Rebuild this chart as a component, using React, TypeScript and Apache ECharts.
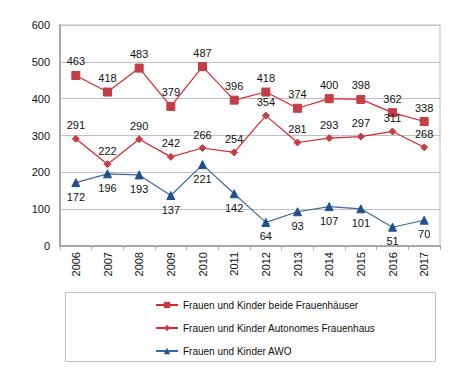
import React, { useEffect, useRef } from "react";
import * as echarts from "echarts";

const years = ["2006", "2007", "2008", "2009", "2010", "2011", "2012", "2013", "2014", "2015", "2016", "2017"];
const beide = [463, 418, 483, 379, 487, 396, 418, 374, 400, 398, 362, 338];
const autonomes = [291, 222, 290, 242, 266, 254, 354, 281, 293, 297, 311, 268];
const awo = [172, 196, 193, 137, 221, 142, 64, 93, 107, 101, 51, 70];
const names = [
  "Frauen und Kinder beide Frauenhäuser",
  "Frauen und Kinder Autonomes Frauenhaus",
  "Frauen und Kinder AWO",
];

const FONT = "Liberation Sans, Arial, sans-serif";

export default function App() {
  const ref = useRef<HTMLDivElement>(null);
  useEffect(() => {
    if (!ref.current) return;
    const chart = echarts.init(ref.current, null, { renderer: "svg" });
    const label = (pos: string) => ({
      show: true,
      position: pos,
      distance: 4,
      color: "#111",
      fontSize: 11,
      fontFamily: FONT,
    });
    chart.setOption({
      animation: false,
      textStyle: { fontFamily: FONT },
      grid: {
        left: 60,
        top: 25,
        width: 380,
        height: 221,
        show: true,
        borderColor: "#b8b8b8",
        borderWidth: 1,
        backgroundColor: "transparent",
      },
      xAxis: {
        type: "category",
        data: years,
        boundaryGap: true,
        axisLine: { lineStyle: { color: "#a8a8a8", width: 2 } },
        axisTick: { show: true, length: 4, lineStyle: { color: "#a8a8a8" } },
        axisLabel: { rotate: 90, fontSize: 11, color: "#111", margin: 6, fontFamily: FONT },
      },
      yAxis: {
        type: "value",
        min: 0,
        max: 600,
        interval: 100,
        axisLine: { show: true, lineStyle: { color: "#a8a8a8", width: 2 } },
        axisTick: { show: false },
        splitLine: { lineStyle: { color: "#c0c0c0", width: 1 } },
        axisLabel: { fontSize: 11, color: "#111", margin: 10, fontFamily: FONT },
      },
      legend: {
        orient: "vertical",
        left: 150,
        top: 295,
        itemGap: 13,
        itemWidth: 22,
        itemHeight: 8,
        textStyle: { fontSize: 10, color: "#111", fontFamily: FONT },
        data: names,
      },
      graphic: [
        {
          type: "rect",
          shape: { x: 65.5, y: 292.5, width: 370, height: 69 },
          style: { fill: "none", stroke: "#c0c0c0", lineWidth: 1 },
          z: -1,
        },
      ],
      series: [
        {
          name: names[0],
          type: "line",
          data: beide,
          symbol: "rect",
          symbolSize: 8,
          lineStyle: { color: "#d9262c", width: 1.2 },
          itemStyle: { color: "#c43e45", borderColor: "#c43e45" },
          label: label("top"),
        },
        {
          name: names[1],
          type: "line",
          data: autonomes,
          symbol: "diamond",
          symbolSize: 7,
          lineStyle: { color: "#d9262c", width: 1.2 },
          itemStyle: { color: "#c43e45", borderColor: "#c43e45" },
          label: label("top"),
        },
        {
          name: names[2],
          type: "line",
          data: awo,
          symbol: "triangle",
          symbolSize: 8,
          lineStyle: { color: "#3a68a3", width: 1.2 },
          itemStyle: { color: "#22508e", borderColor: "#22508e" },
          label: label("bottom"),
        },
      ],
    });
    return () => chart.dispose();
  }, []);
  return <div ref={ref} style={{ width: 470, height: 381, margin: -8 }} />;
}
